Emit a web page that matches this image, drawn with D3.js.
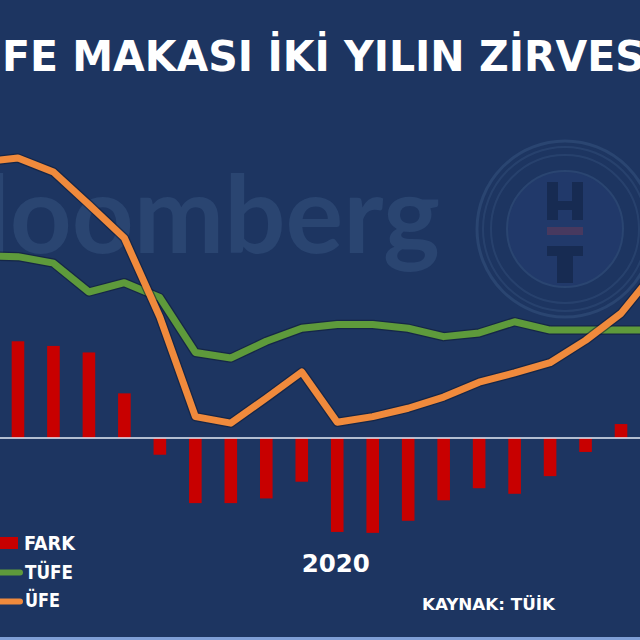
<!DOCTYPE html>
<html><head><meta charset="utf-8">
<script src="https://cdn.jsdelivr.net/npm/d3@7"></script>
<style>
html,body{margin:0;padding:0;background:#1d3561;}
svg{display:block;}
</style></head>
<body>
<script>
// ---- data (annual %) ----
const months = ["Mar 2019","Nis 2019","May 2019","Haz 2019","Tem 2019","Ağu 2019","Eyl 2019","Eki 2019","Kas 2019","Ara 2019",
                "Oca 2020","Şub 2020","Mar 2020","Nis 2020","May 2020","Haz 2020","Tem 2020","Ağu 2020","Eyl 2020","Eki 2020"];
const ufe  = [29.7, 30.1, 28.6, 25.1, 21.5, 13.0, 2.3, 1.6, 4.3, 7.1, 1.7, 2.3, 3.2, 4.4, 6.0, 7.0, 8.1, 10.5, 13.4, 18.1];
const tufe = [19.6, 19.5, 18.8, 15.7, 16.7, 15.1, 9.2, 8.6, 10.4, 11.8, 12.2, 12.2, 11.8, 10.9, 11.3, 12.5, 11.6, 11.6, 11.6, 11.6];
const fark = [10.1, 10.4, 9.9, 9.2, 4.8, -1.8, -7.0, -7.0, -6.5, -4.7, -10.1, -10.2, -8.9, -6.7, -5.4, -6.0, -4.1, -1.5, 1.5, 6.5];
const seriesNames = ["FARK", "TÜFE", "ÜFE"];
const yearLabel = "2020";
const yearLabelMonth = "Oca 2020";
const title = "ÜFE-TÜFE MAKASI İKİ YILIN ZİRVESİNDE";
const source = "KAYNAK: TÜİK";

const W = 640, H = 640;
const C = {bg:"#1d3561", bar:"#c80000", tufe:"#5e9a3b", ufe:"#f08a3c", zero:"#e6ecf7", wm:"#2a4571"};

const svg = d3.select("body").append("svg").attr("width", W).attr("height", H);
svg.append("rect").attr("width", W).attr("height", H).attr("fill", C.bg);
svg.append("rect").attr("x",0).attr("y",637).attr("width",W).attr("height",3).attr("fill","#7f9fd6");

// ---- watermark ----
const wm = svg.append("g").attr("class","watermark");
wm.append("text").attr("x", 440).attr("y", 253).attr("text-anchor","end")
  .attr("font-family","Lato").attr("font-weight",700).attr("font-size",108)
  .attr("fill", C.wm).text("Bloomberg");
const lc = {x:565, y:229};
[88, 82, 74].forEach((r,i)=>{
  wm.append("circle").attr("cx",lc.x).attr("cy",lc.y).attr("r",r)
    .attr("fill","none").attr("stroke",C.wm).attr("stroke-width", i===0?3:2).attr("opacity", i===0?1:0.8);
});
wm.append("circle").attr("cx",lc.x).attr("cy",lc.y).attr("r",58).attr("fill","#21396a").attr("stroke",C.wm).attr("stroke-width",2);
const dk = "#172b52";
wm.append("rect").attr("x",547).attr("y",182).attr("width",11).attr("height",38).attr("fill",dk);
wm.append("rect").attr("x",572).attr("y",182).attr("width",11).attr("height",38).attr("fill",dk);
wm.append("rect").attr("x",547).attr("y",201).attr("width",36).attr("height",9).attr("fill",dk);
wm.append("rect").attr("x",547).attr("y",227).attr("width",36).attr("height",8).attr("fill","#47395f");
wm.append("rect").attr("x",547).attr("y",246).attr("width",36).attr("height",10).attr("fill",dk);
wm.append("rect").attr("x",557).attr("y",246).attr("width",16).attr("height",37).attr("fill",dk);

// ---- scales ----
const x = d3.scalePoint().domain(months).range([-17.5, 656.5]);
const y = d3.scaleLinear().domain([-15, 35]).range([438 + 15*9.3, 438 - 35*9.3]);
const bw = x.step() * 0.355;

// bars
svg.append("g").selectAll("rect").data(months).join("rect")
  .attr("x", d => x(d) - bw/2)
  .attr("y", (d,i) => y(Math.max(0, fark[i])))
  .attr("width", bw)
  .attr("height", (d,i) => Math.abs(y(fark[i]) - y(0)))
  .attr("fill", C.bar);

// zero line
svg.append("line").attr("x1",0).attr("x2",W).attr("y1",y(0)).attr("y2",y(0))
  .attr("stroke",C.zero).attr("stroke-width",1.5);

// lines
function drawLine(vals, color){
  const gen = d3.line().x((d,i)=>x(months[i])).y(d=>y(d));
  svg.append("path").attr("d", gen(vals)).attr("fill","none")
    .attr("stroke","#0e1a33").attr("stroke-opacity",0.55).attr("stroke-width",9.5).attr("stroke-linejoin","round");
  svg.append("path").attr("d", gen(vals)).attr("fill","none")
    .attr("stroke",color).attr("stroke-width",7).attr("stroke-linejoin","round");
}
drawLine(tufe, C.tufe);
drawLine(ufe, C.ufe);

// ---- title ----
const FONT = "'DejaVu Sans', Verdana, sans-serif";
const t = svg.append("text").attr("y", 71).attr("x", 0)
  .attr("font-family", FONT).attr("font-weight",700).attr("font-size",42)
  .attr("fill","#ffffff").text(title);
const node = t.node();
const iF = title.indexOf("FE MAKASI"), iEnd = title.indexOf("İNDE");
const pF = node.getStartPositionOfChar(iF).x, pE = node.getStartPositionOfChar(iEnd).x;
const sx = (645 - 2) / (pE - pF);
t.attr("transform", `translate(${2 - pF*sx},0) scale(${sx},1)`);

// ---- legend ----
const lg = svg.append("g");
lg.append("rect").attr("x",-10).attr("y",537).attr("width",28).attr("height",12).attr("fill",C.bar);
lg.append("line").attr("x1",-10).attr("x2",20).attr("y1",572.5).attr("y2",572.5)
  .attr("stroke",C.tufe).attr("stroke-width",6).attr("stroke-linecap","round");
lg.append("line").attr("x1",-10).attr("x2",20).attr("y1",601.5).attr("y2",601.5)
  .attr("stroke",C.ufe).attr("stroke-width",6).attr("stroke-linecap","round");
const legY = [550, 579, 607];
const legX = [24, 25, 25];
const legW = [51, 48, 35];
seriesNames.forEach((n,i)=>{
  lg.append("text").attr("x",legX[i]).attr("y",legY[i])
    .attr("font-family","'DejaVu Sans Condensed', 'DejaVu Sans', sans-serif").attr("font-weight",700)
    .attr("font-size",19).attr("fill","#ffffff")
    .attr("textLength",legW[i]).attr("lengthAdjust","spacingAndGlyphs").text(n);
});

// year label
svg.append("text").attr("x", x(yearLabelMonth) - 1.5).attr("y", 572).attr("text-anchor","middle")
  .attr("font-family",FONT).attr("font-weight",700).attr("font-size",24.5).attr("fill","#ffffff").text(yearLabel);

// source
svg.append("text").attr("x",422).attr("y",610)
  .attr("font-family","'DejaVu Sans Condensed', 'DejaVu Sans', sans-serif").attr("font-weight",700)
  .attr("font-size",15.5).attr("fill","#ffffff")
  .attr("textLength",133).attr("lengthAdjust","spacingAndGlyphs").text(source);
</script>
</body></html>
